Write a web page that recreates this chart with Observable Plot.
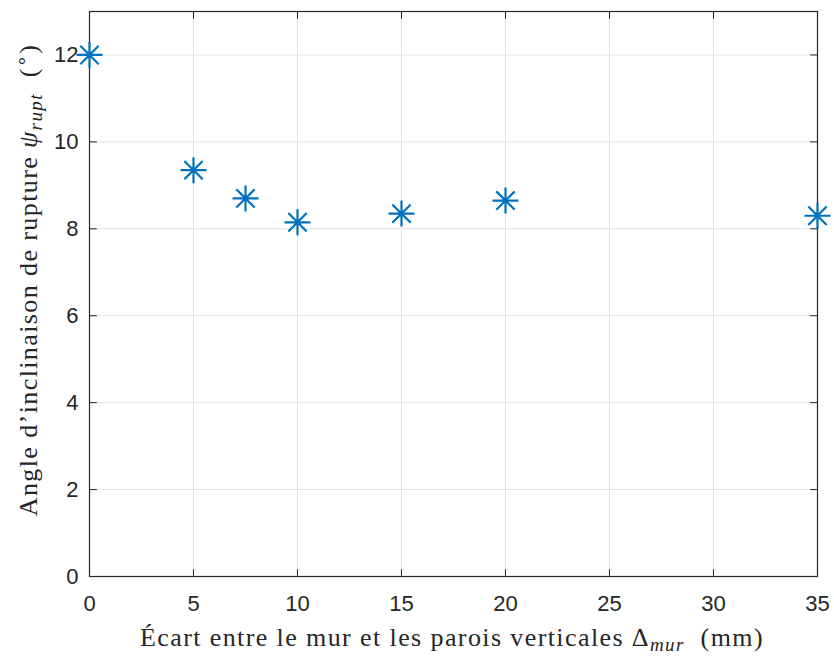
<!DOCTYPE html>
<html><head><meta charset="utf-8">
<script src="https://cdn.jsdelivr.net/npm/d3@7"></script>
<script src="https://cdn.jsdelivr.net/npm/@observablehq/plot@0.6"></script>
<style>body{margin:0;background:#fff}</style>
</head><body><div id="chart"></div>
<script>
const ecart = [0, 5, 7.5, 10, 15, 20, 35];
const angle = [12, 9.35, 8.7, 8.15, 8.35, 8.65, 8.3];
const xTicks = [0, 5, 10, 15, 20, 25, 30, 35];
const yTicks = [0, 2, 4, 6, 8, 10, 12];
const data = ecart.map((x, i) => ({x, y: angle[i]}));

const asterisk = {draw(ctx, size) {
  const r = Math.sqrt(size / Math.PI), d = r * Math.SQRT1_2;
  ctx.moveTo(-r, 0); ctx.lineTo(r, 0);
  ctx.moveTo(0, -r); ctx.lineTo(0, r);
  ctx.moveTo(-d, -d); ctx.lineTo(d, d);
  ctx.moveTo(-d, d); ctx.lineTo(d, -d);
}};
const tickShape = {draw(ctx, l) { ctx.moveTo(0, 0); ctx.lineTo(0, -l); }};
const axisColor = "#262626";
const tickOpts = {length: 7, anchor: "start", shape: tickShape, stroke: axisColor, strokeWidth: 1};

const plot = Plot.plot({
  width: 834, height: 657,
  marginLeft: 89, marginRight: 17, marginTop: 11, marginBottom: 81,
  x: {domain: [0, 35]},
  y: {domain: [0, 13]},
  style: {fontFamily: "'Liberation Sans', Arial, sans-serif", fontSize: "22px", color: axisColor, background: "#fff"},
  marks: [
    Plot.gridX(xTicks, {stroke: "#e3e3e3", strokeOpacity: 1, strokeWidth: 1}),
    Plot.gridY(yTicks, {stroke: "#e3e3e3", strokeOpacity: 1, strokeWidth: 1}),
    Plot.axisX(xTicks, {tickSize: 0, tickPadding: 19, label: null, fontSize: 22}),
    Plot.axisY(yTicks, {tickSize: 0, tickPadding: 11, label: null, fontSize: 22}),
    Plot.vector(xTicks, {x: d => d, y: () => 0, rotate: 0, ...tickOpts}),
    Plot.vector(xTicks, {x: d => d, y: () => 13, rotate: 180, ...tickOpts}),
    Plot.vector(yTicks, {x: () => 0, y: d => d, rotate: 90, ...tickOpts}),
    Plot.vector(yTicks, {x: () => 35, y: d => d, rotate: -90, ...tickOpts}),
    Plot.frame({stroke: axisColor, strokeWidth: 1.2}),
    Plot.dot(data, {x: "x", y: "y", symbol: asterisk, r: 13, stroke: "#0072BD", strokeWidth: 2.2, fill: "none"})
  ]
});
document.getElementById("chart").append(plot);

const svg = d3.select(plot);
const serif = "'Liberation Serif', 'Times New Roman', serif";
const xl = svg.append("text")
  .attr("x", 452).attr("y", 646).attr("text-anchor", "middle")
  .attr("font-family", serif).attr("font-size", 26).attr("letter-spacing", 1.4).attr("fill", axisColor);
xl.append("tspan").text("Écart entre le mur et les parois verticales Δ");
xl.append("tspan").attr("font-style", "italic").attr("font-size", 19).attr("dy", 5).text("mur");
xl.append("tspan").attr("dy", -5).text("  (mm)");

const yl = svg.append("text")
  .attr("transform", "translate(37,280) rotate(-90)").attr("text-anchor", "middle")
  .attr("font-family", serif).attr("font-size", 26).attr("letter-spacing", 1.4).attr("fill", axisColor);
yl.append("tspan").text("Angle d’inclinaison de rupture ");
yl.append("tspan").attr("font-style", "italic").text("ψ");
yl.append("tspan").attr("font-style", "italic").attr("font-size", 19).attr("dy", 5).text("rupt");
yl.append("tspan").attr("dy", -5).text("  (");
yl.append("tspan").attr("font-size", 19).attr("dy", -9).text("∘");
yl.append("tspan").attr("dy", 9).text(")");
</script>
</body></html>
